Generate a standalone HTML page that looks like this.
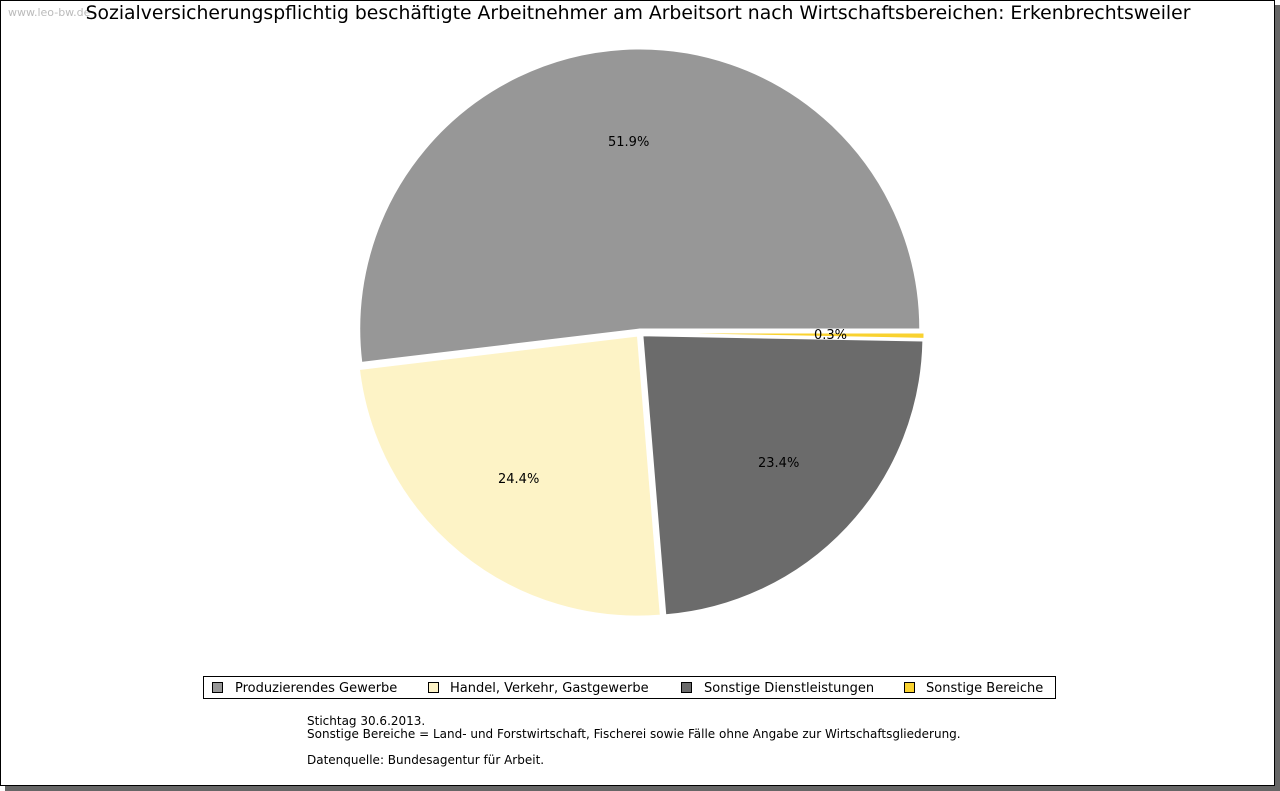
<!DOCTYPE html>
<html><head><meta charset="utf-8"><style>
body{margin:0;width:1280px;height:791px;background:#fff;position:relative;overflow:hidden;font-family:"DejaVu Sans","Liberation Sans",sans-serif;}
#frame{position:absolute;left:0;top:0;width:1273px;height:784px;border:1px solid #000;background:#fff;box-shadow:5px 5px 0 #666;}
.t{position:absolute;white-space:nowrap;color:#000;}
.sq{position:absolute;width:9px;height:9px;border:1px solid #000;}
</style></head><body>
<div id="frame"></div>
<svg id="pie" width="1280" height="791" style="position:absolute;left:0;top:0"></svg>
<div class="t" style="left:8px;top:6px;font-size:11px;color:#bbb">www.leo-bw.de</div>
<div class="t" style="left:0;width:1276px;text-align:center;top:3px;font-size:18.8px">Sozialversicherungspflichtig beschäftigte Arbeitnehmer am Arbeitsort nach Wirtschaftsbereichen: Erkenbrechtsweiler</div>
<div class="t" style="left:608px;top:135px;font-size:13px">51.9%</div>
<div class="t" style="left:498px;top:472px;font-size:13px">24.4%</div>
<div class="t" style="left:758px;top:456px;font-size:13px">23.4%</div>
<div class="t" style="left:814px;top:328px;font-size:13px">0.3%</div>
<div style="position:absolute;left:203px;top:676px;width:851px;height:21px;border:1px solid #000;background:#fff"></div>
<div class="sq" style="left:212px;top:682px;background:#979797"></div>
<div class="t" style="left:235px;top:681px;font-size:13px">Produzierendes Gewerbe</div>
<div class="sq" style="left:428px;top:682px;background:#fdf3c6"></div>
<div class="t" style="left:450px;top:681px;font-size:13px">Handel, Verkehr, Gastgewerbe</div>
<div class="sq" style="left:681px;top:682px;background:#6b6b6b"></div>
<div class="t" style="left:704px;top:681px;font-size:13px">Sonstige Dienstleistungen</div>
<div class="sq" style="left:904px;top:682px;background:#f9d230"></div>
<div class="t" style="left:926px;top:681px;font-size:13px">Sonstige Bereiche</div>
<div class="t" style="left:307px;top:714px;font-size:12px">Stichtag 30.6.2013.</div>
<div class="t" style="left:307px;top:727px;font-size:12px">Sonstige Bereiche = Land- und Forstwirtschaft, Fischerei sowie Fälle ohne Angabe zur Wirtschaftsgliederung.</div>
<div class="t" style="left:307px;top:753px;font-size:12px">Datenquelle: Bundesagentur für Arbeit.</div>
<script>
var s=document.getElementById('pie'),cx=640,cy=333,r=280,off=4;
var d=[[51.9,'#979797'],[24.4,'#fdf3c6'],[23.4,'#6b6b6b'],[0.3,'#f9d230']];
var a=0,h='';
d.forEach(function(x){var a1=a,a2=a+x[0]*3.6,m=(a1+a2)/2*Math.PI/180;
var ox=cx+off*Math.cos(m),oy=cy-off*Math.sin(m);
var p1=[ox+r*Math.cos(a1*Math.PI/180),oy-r*Math.sin(a1*Math.PI/180)],p2=[ox+r*Math.cos(a2*Math.PI/180),oy-r*Math.sin(a2*Math.PI/180)];
var lg=(a2-a1)>180?1:0;
h+='<path d="M'+ox+','+oy+' L'+p1[0]+','+p1[1]+' A'+r+','+r+' 0 '+lg+' 0 '+p2[0]+','+p2[1]+' Z" fill="'+x[1]+'" stroke="#fff" stroke-width="1"/>';
a=a2;});
s.innerHTML=h;
</script>
</body></html>
